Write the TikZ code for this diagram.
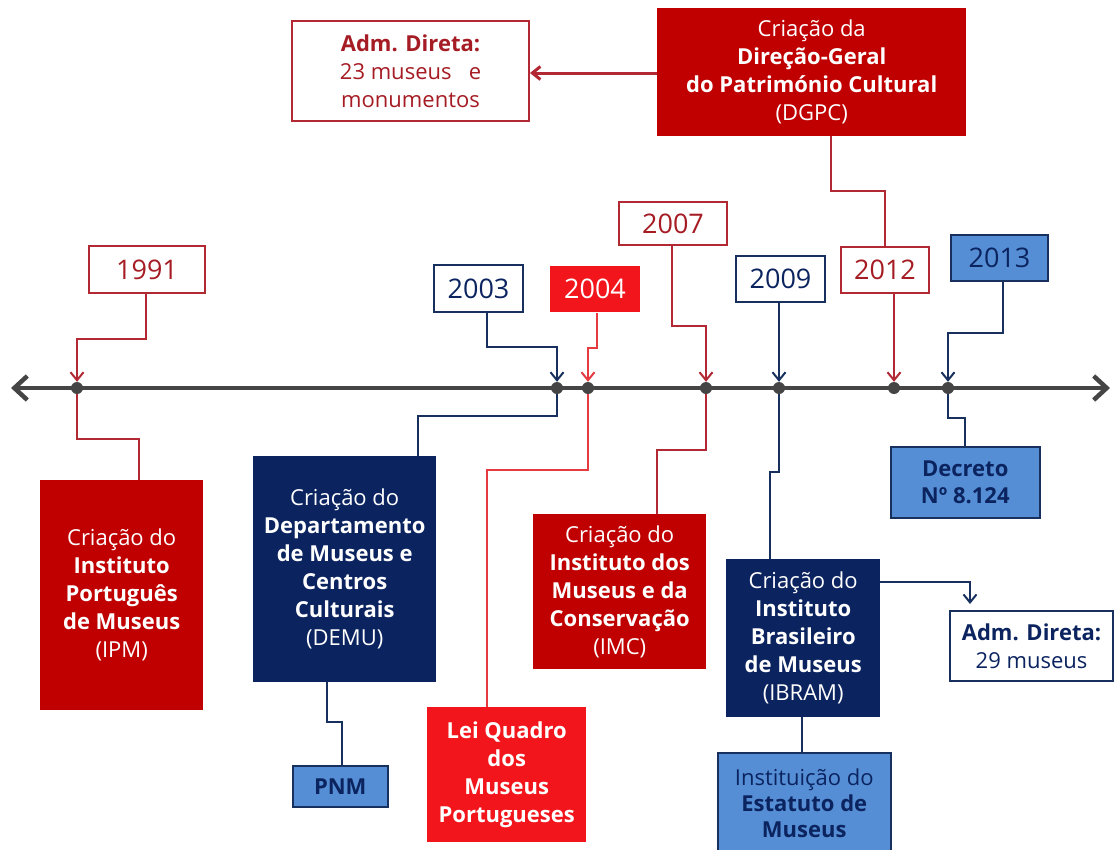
\documentclass[tikz,border=0pt]{standalone}
\usepackage{fontspec}
\setmainfont{Open Sans}
\usetikzlibrary{arrows.meta}
\definecolor{dred}{HTML}{C00000}
\definecolor{rline}{HTML}{B22833}
\definecolor{rtext}{HTML}{A51C24}
\definecolor{bred}{HTML}{F2161C}
\definecolor{bline}{HTML}{E53A3F}
\definecolor{navy}{HTML}{0B2460}
\definecolor{nline}{HTML}{17305E}
\definecolor{lblue}{HTML}{558ED5}
\definecolor{tgray}{HTML}{454545}
\begin{document}
\begin{tikzpicture}[x=1pt,y=-1pt,
  box/.style={rectangle, inner sep=0pt, align=center, anchor=north west, font=\fontsize{22}{28}\selectfont},
  yearbox/.style={rectangle, inner sep=0pt, anchor=north west, line width=2pt, font=\fontsize{27}{32}\selectfont},
  dot/.style={circle, fill=tgray, inner sep=0pt, minimum size=12pt},
  rl/.style={draw=rline, line width=2pt},
  nl/.style={draw=nline, line width=2pt},
  bl/.style={draw=bline, line width=2pt},
  tip/.style={-{Straight Barb[length=8pt,width=13pt]}},
]
\useasboundingbox (0,0) rectangle (1116,849);

% timeline
\coordinate (tlL) at (11,388);
\coordinate (tlR) at (1110,388);
\draw[tgray, line width=4.5pt, {Straight Barb[length=13pt,width=24pt]}-{Straight Barb[length=13pt,width=24pt]}] (tlL) -- (tlR);

\node[dot] (d1991) at (77,388) {};
\node[dot] (d2003) at (557,388) {};
\node[dot] (d2004) at (588,388) {};
\node[dot] (d2007) at (706,388) {};
\node[dot] (d2009) at (779,388) {};
\node[dot] (d2012) at (894,388) {};
\node[dot] (d2013) at (948,388) {};

% top boxes
\node[box, fill=dred, text=white, minimum width=309pt, minimum height=128pt] (dgpc) at (657,8)
  {Criação da\\\textbf{Direção-Geral}\\\textbf{do Património Cultural}\\(DGPC)};
\node[box, draw=rline, line width=2pt, fill=white, text=rtext, minimum width=237pt, minimum height=100pt] (adm1) at (291,20)
  {\textbf{Adm. Direta:}\\23 museus\ \ \ e\\monumentos};

% year boxes
\node[yearbox, draw=rline, text=rtext, minimum width=116pt, minimum height=47pt] (y1991) at (88,245) {1991};
\node[yearbox, draw=nline, text=navy, minimum width=89pt, minimum height=47pt] (y2003) at (433,264) {2003};
\node[yearbox, fill=bred, text=white, minimum width=90pt, minimum height=46pt] (y2004) at (549,265) {2004};
\node[yearbox, draw=rline, text=rtext, minimum width=108pt, minimum height=43pt] (y2007) at (618,201) {2007};
\node[yearbox, draw=nline, text=navy, minimum width=89pt, minimum height=46pt] (y2009) at (735,255) {2009};
\node[yearbox, draw=rline, text=rtext, minimum width=88pt, minimum height=46pt] (y2012) at (840,246) {2012};
\node[yearbox, draw=nline, fill=lblue, text=navy, minimum width=97pt, minimum height=46pt] (y2013) at (950,234) {2013};

% bottom boxes
\node[box, fill=dred, text=white, minimum width=163pt, minimum height=230pt] (ipm) at (40,480)
  {Criação do\\\textbf{Instituto}\\\textbf{Português}\\\textbf{de Museus}\\(IPM)};
\node[box, fill=navy, text=white, minimum width=183pt, minimum height=226pt] (demu) at (253,456)
  {Criação do\\\textbf{Departamento}\\\textbf{de Museus e}\\\textbf{Centros}\\\textbf{Culturais}\\(DEMU)};
\node[box, fill=lblue, draw=nline, line width=1.5pt, text=navy, minimum width=95pt, minimum height=41pt] (pnm) at (292,765)
  {\textbf{PNM}};
\node[box, fill=bred, text=white, minimum width=159pt, minimum height=135pt] (lei) at (427,707)
  {\textbf{Lei Quadro}\\\textbf{dos}\\\textbf{Museus}\\\textbf{Portugueses}};
\node[box, fill=dred, text=white, minimum width=173pt, minimum height=155pt] (imc) at (533,514)
  {Criação do\\\textbf{Instituto dos}\\\textbf{Museus e da}\\\textbf{Conservação}\\(IMC)};
\node[box, fill=navy, text=white, minimum width=154pt, minimum height=158pt] (ibram) at (726,559)
  {Criação do\\\textbf{Instituto}\\\textbf{Brasileiro}\\\textbf{de Museus}\\(IBRAM)};
\node[box, fill=white, draw=nline, line width=2pt, text=navy, minimum width=163pt, minimum height=70pt] (adm2) at (949,610)
  {\textbf{Adm. Direta:}\\29 museus};
\node[box, fill=lblue, draw=nline, line width=1.5pt, text=navy, minimum width=173pt, minimum height=100pt, font=\fontsize{22}{26}\selectfont] (estatuto) at (717,752)
  {Instituição do\\\textbf{Estatuto de}\\\textbf{Museus}};
\node[box, fill=lblue, draw=nline, line width=1.5pt, text=navy, minimum width=149pt, minimum height=71pt, font=\fontsize{22}{27}\selectfont] (decreto) at (890,446)
  {\textbf{Decreto}\\\textbf{Nº 8.124}};

% connectors: years to timeline
\draw[rl,tip] (y1991.south -| 146,0) -- (146,339) -| (d1991);
\draw[nl,tip] (y2003.south -| 487,0) -- (487,347) -| (d2003);
\draw[bl,tip] (y2004.south -| 597,0) -- (597,348) -| (d2004);
\draw[rl,tip] (y2007.south -| 672,0) -- (672,326) -| (d2007);
\draw[nl,tip] (y2009.south -| d2009) -- (d2009);
\draw[rl,tip] (y2012.south -| d2012) -- (d2012);
\draw[nl,tip] (y2013.south -| 1003,0) -- (1003,333) -| (d2013);

% connectors: timeline to boxes
\draw[rl] (d1991) -- (77,439) -| (ipm.north -| 139,0);
\draw[nl] (d2003) -- (557,416) -| (demu.north -| 418,0);
\draw[bl] (d2004) -- (588,470) -| (lei.north -| 487,0);
\draw[rl] (d2007) -- (706,450) -| (imc.north -| 657,0);
\draw[nl] (d2009) -- (779,472) -| (ibram.north -| 770,0);
\draw[nl] (d2013) -- (948,418) -| (decreto.north -| 965,0);

% other connectors
\draw[nl] (demu.south -| 327,0) -- (327,722) -| (pnm.north -| 342,0);
\draw[nl] (ibram.south -| 802,0) -- (estatuto.north -| 802,0);
\draw[nl,tip,shorten >=6pt] (ibram.east |- 0,582) -| (adm2.north -| 970,0);
\draw[rl] (dgpc.south -| 831,0) -- (831,191) -| (y2012.north);
\draw[rl,line width=3pt,tip] (dgpc.west |- 0,73) -- (adm1.east |- 0,73);
\end{tikzpicture}
\end{document}
